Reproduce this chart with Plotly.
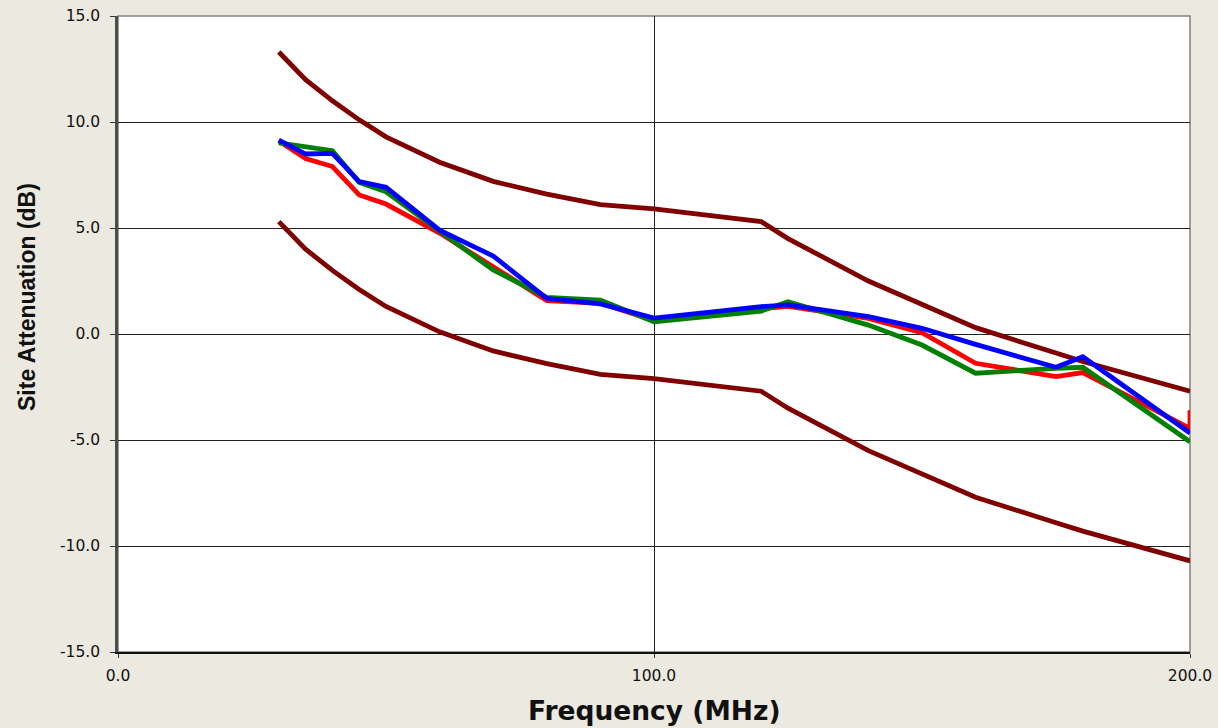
import plotly.graph_objects as go

# Frequencies (MHz)
freq = [30, 35, 40, 45, 50, 60, 70, 80, 90, 100, 120, 125, 140, 150, 160, 175, 180, 200]

# Limit lines (dB)
upper_limit = [13.3, 12.0, 11.0, 10.1, 9.3, 8.1, 7.2, 6.6, 6.1, 5.9, 5.3, 4.5, 2.5, 1.4, 0.3, -0.9, -1.3, -2.7]
lower_limit = [5.3, 4.0, 3.0, 2.1, 1.3, 0.1, -0.8, -1.4, -1.9, -2.1, -2.7, -3.5, -5.5, -6.6, -7.7, -8.9, -9.3, -10.7]

# Measured site attenuation (dB)
red_freq = [30, 35, 40, 45, 50, 60, 70, 80, 90, 100, 120, 125, 140, 150, 160, 175, 180, 200, 200]
red_vals = [9.1, 8.28, 7.9, 6.56, 6.13, 4.76, 3.17, 1.57, 1.45, 0.63, 1.2, 1.3, 0.74, 0.06, -1.38, -2.01, -1.82, -4.45, -3.6]
green_vals = [9.02, 8.84, 8.65, 7.15, 6.71, 4.85, 3.02, 1.73, 1.6, 0.58, 1.08, 1.52, 0.42, -0.52, -1.85, -1.62, -1.57, -5.08]
blue_vals = [9.15, 8.49, 8.52, 7.19, 6.92, 4.9, 3.68, 1.68, 1.42, 0.75, 1.29, 1.37, 0.82, 0.27, -0.49, -1.57, -1.07, -4.67]

x_ticks = [0, 100, 200]
y_ticks = [-15, -10, -5, 0, 5, 10, 15]

LW = 4.8
fig = go.Figure()
fig.add_trace(go.Scatter(x=freq, y=upper_limit, mode="lines", name="Upper limit",
                         line=dict(color="#800000", width=LW)))
fig.add_trace(go.Scatter(x=freq, y=lower_limit, mode="lines", name="Lower limit",
                         line=dict(color="#800000", width=LW)))
fig.add_trace(go.Scatter(x=red_freq, y=red_vals, mode="lines", name="Measurement 1",
                         line=dict(color="#FF0000", width=LW)))
fig.add_trace(go.Scatter(x=freq, y=green_vals, mode="lines", name="Measurement 2",
                         line=dict(color="#008000", width=LW)))
fig.add_trace(go.Scatter(x=freq, y=blue_vals, mode="lines", name="Measurement 3",
                         line=dict(color="#0000FF", width=LW)))

tickfont = dict(family="DejaVu Sans", size=15.5, color="#111111")

fig.update_layout(
    width=1218, height=728,
    margin=dict(l=118, r=28, t=16, b=76),
    paper_bgcolor="#ECE9E0",
    plot_bgcolor="#FFFFFF",
    showlegend=False,
    xaxis=dict(range=[0, 200], tickvals=x_ticks, ticktext=[f"{v:.1f}" for v in x_ticks],
               showgrid=True, gridcolor="#222222", gridwidth=1, zeroline=False,
               showline=True, linecolor="#111111", linewidth=1.5, automargin=False,
               ticks="outside", ticklen=4, tickcolor="#333333",
               tickfont=tickfont, ticklabelstandoff=5),
    yaxis=dict(range=[-15, 15], tickvals=y_ticks, ticktext=[f"{v:.1f}" for v in y_ticks],
               showgrid=True, gridcolor="#222222", gridwidth=1, zeroline=False,
               showline=True, linecolor="#4d4d4d", linewidth=2.5, automargin=False,
               ticks="outside", ticklen=5, tickcolor="#333333",
               tickfont=tickfont, ticklabelstandoff=7),
    shapes=[dict(type="rect", xref="paper", yref="paper", x0=0, x1=1, y0=0, y1=1,
                 line=dict(color="#808080", width=1.5), layer="below")],
    annotations=[
        dict(text="<b>Frequency (MHz)</b>", xref="paper", yref="paper", x=0.5, y=-0.092,
             xanchor="center", yanchor="middle", showarrow=False,
             font=dict(family="DejaVu Sans", size=26.5, color="#111111")),
        dict(text="<b>Site Attenuation (dB)</b>", xref="paper", yref="paper", x=-0.085, y=0.558,
             xanchor="center", yanchor="middle", showarrow=False, textangle=-90,
             font=dict(family="Liberation Sans", size=23, color="#111111")),
    ],
)

fig.write_html("out.html")
